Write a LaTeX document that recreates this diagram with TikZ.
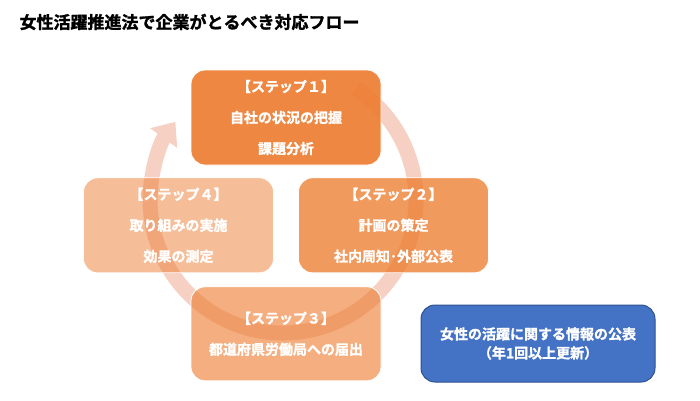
\documentclass[tikz,border=0pt]{standalone}
\usepackage{fontspec}
\setmainfont{Noto Sans CJK JP}[BoldFont={Noto Sans CJK JP Bold}, BoldFeatures={FakeBold=1.5}]
\usetikzlibrary{arrows.meta, positioning}

\definecolor{stepOrange}{RGB}{237,125,49}
\definecolor{ringPink}{RGB}{246,208,194}
\definecolor{infoBlue}{RGB}{68,114,196}
\definecolor{infoBorder}{RGB}{47,82,143}

\begin{document}
\begin{tikzpicture}[
        x=1pt, y=1pt,
        stepbox/.style={rectangle, rounded corners=14pt, fill=stepOrange, draw=white, line width=0.8pt, minimum width=190pt, minimum height=95pt, align=center, text=white, text opacity=1, font=\fontsize{14}{31}\selectfont\bfseries},
        infobox/.style={rectangle, rounded corners=14pt, fill=infoBlue, draw=infoBorder, line width=1pt, minimum width=234pt, minimum height=77pt, align=center, text=white, font=\fontsize{14}{19}\selectfont\bfseries},
        heading/.style={anchor=west, font=\fontsize{17}{20}\selectfont\bfseries},
        ring/.style={ringPink, line width=15pt, -{Triangle[width=32pt, length=20pt]}}
    ]
        \useasboundingbox (0,0) rectangle (700,400);

        % 1. Title
        \node (title) [heading] at (16,378) {女性活躍推進法で企業がとるべき対応フロー};

        % 2. Cycle arrow behind the steps
        \coordinate (ringcenter) at (283,200);
        \draw [ring] ([shift={(57:133)}]ringcenter) arc[start angle=57, end angle=-216, radius=133];

        % 3. Steps
        \node (step1) [stepbox, fill opacity=0.92] at (286,282.5) {【ステップ１】\\自社の状況の把握\\課題分析};
        \node (step2) [stepbox, fill opacity=0.78, below=12pt of step1, xshift=107.5pt] {【ステップ２】\\計画の策定\\社内周知･外部公表};
        \node (step4) [stepbox, fill opacity=0.5, below=12pt of step1, xshift=-107.5pt] {【ステップ４】\\取り組みの実施\\効果の測定};
        \node (step3) [stepbox, fill opacity=0.62, minimum height=94pt, below=121pt of step1] {【ステップ３】\\都道府県労働局への届出};

        % 4. Disclosure
        \node (report) [infobox] at (538,56.5) {女性の活躍に関する情報の公表\\（年1回以上更新）};
    \end{tikzpicture}
\end{document}
